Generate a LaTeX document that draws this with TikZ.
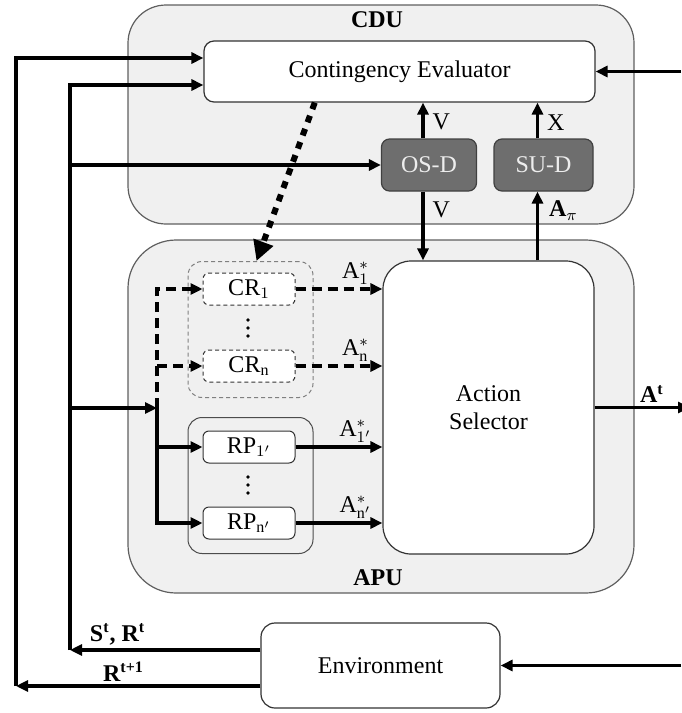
\documentclass[tikz,border=0pt]{standalone}
\usepackage{fontspec}
\setmainfont{Liberation Serif}
\usepackage{amsmath}
\usetikzlibrary{arrows.meta, calc}

\definecolor{unitfill}{HTML}{F0F0F0}
\definecolor{unitline}{HTML}{5F5F5F}
\definecolor{detfill}{HTML}{6E6E6E}
\definecolor{dettext}{HTML}{EDEDED}

\begin{document}
\begin{tikzpicture}[x=0.5pt, y=-0.5pt, font=\fontsize{12}{14}\selectfont,
    boxsize/.style 2 args={minimum width=#1*0.5pt, minimum height=#2*0.5pt, inner sep=0pt},
    unit/.style={draw=unitline, fill=unitfill, line width=0.6pt},
    title/.style={font=\fontsize{12}{14}\selectfont\bfseries},
    block/.style={draw=black!80, fill=white, line width=0.6pt},
    detector/.style={draw=black!75, fill=detfill, text=dettext, line width=0.6pt, rounded corners=4pt, boxsize={95}{52}},
    policy/.style={draw=black!80, fill=white, line width=0.5pt, rounded corners=3pt, boxsize={92}{32}},
    group/.style={draw=black!70, line width=0.5pt, rounded corners=7pt, boxsize={125}{136}},
    wire/.style={line width=1.6pt},
    flow/.style={wire, -{Triangle[length=6pt, width=5.5pt]}},
    dashflow/.style={flow, dash pattern=on 5pt off 3pt},
    lbl/.style={inner sep=1.5pt}]
    \useasboundingbox (0,0) rectangle (681,713);

    % units
    \node[unit, boxsize={506}{219}, rounded corners=19pt] (cdu) at (381,114.5) {};
    \node[unit, boxsize={506}{353}, rounded corners=24pt] (apu) at (381,416.5) {};
    \node[title] (cdutitle) at (377,20) {CDU};
    \node[title] (aputitle) at (378,578) {APU};

    % CDU blocks
    \node[block, rounded corners=5pt, boxsize={391}{61}] (ce) at (399.5,71.5) {Contingency Evaluator};
    \node[detector] (osd) at (429,165) {OS-D};
    \node[detector, boxsize={99}{52}] (sud) at (543.5,165) {SU-D};

    % APU blocks
    \node[group, draw=gray, dash pattern=on 2pt off 1.5pt] (crgrp) at (250.5,329.5) {};
    \node[group] (rpgrp) at (250.5,485.5) {};
    \node[policy, dash pattern=on 2pt off 1.5pt] (cr1) at (249,289) {$\mathrm{CR}_1$};
    \node[policy, dash pattern=on 2pt off 1.5pt] (crn) at (249,366) {$\mathrm{CR}_\mathrm{n}$};
    \node[policy] (rp1) at (249,447) {$\mathrm{RP}_{1'}$};
    \node[policy] (rpn) at (249,523) {$\mathrm{RP}_{\mathrm{n}'}$};
    \coordinate (crdots) at (248,328);
    \coordinate (rpdots) at (248,485);
    \foreach \d in {-8,0,8} {
        \fill (crdots) ++(0,\d) circle (0.9pt);
        \fill (rpdots) ++(0,\d) circle (0.9pt);
    }
    \node[block, rounded corners=14pt, boxsize={211}{293}, align=center] (as) at (488.5,407.5) {Action\\Selector};

    % environment
    \node[block, rounded corners=7pt, boxsize={239}{85}] (env) at (380.5,665.5) {Environment};

    % buses
    \coordinate (inbus) at (70,650);
    \coordinate (outbus) at (16,686);
    \coordinate (split) at (157,408);
    \coordinate (cein) at (681,71.5);
    \coordinate (envin) at (681,665.5);
    \coordinate (aout) at (690,409);

    \draw[flow] (env.west |- inbus) -- node[above, pos=0.75, lbl] {\textbf{S\textsuperscript{t}, R\textsuperscript{t}}} (inbus);
    \draw[flow] (env.west |- outbus) -- node[above, pos=0.56, lbl] {\textbf{R\textsuperscript{t+1}}} (outbus);
    \draw[flow] (inbus) |- ([yshift=-6.75pt]ce.west);
    \draw[flow] (outbus) |- ([yshift=6.75pt]ce.west);
    \draw[flow] (inbus |- osd.west) -- (osd.west);
    \draw[flow] (inbus |- split) -- (split);
    \draw[flow] (cein) -- (ce.east);
    \draw[flow] (envin) -- (env.east);

    % detectors
    \draw[flow] ([xshift=-3pt]osd.north) -- node[right, pos=0.45, inner sep=4pt] {V} ([xshift=-3pt]osd.north |- ce.south);
    \draw[flow] ([xshift=-3pt]sud.north) -- node[right, pos=0.45, inner sep=4pt] {X} ([xshift=-3pt]sud.north |- ce.south);
    \draw[flow] ([xshift=-3pt]osd.south) -- node[right, pos=0.27, inner sep=4pt] {V} ([xshift=-3pt]osd.south |- as.north);
    \draw[flow] ([xshift=-3pt]sud.south |- as.north) -- node[right, pos=0.72, inner sep=5pt] {$\mathbf{A}_\pi$} ([xshift=-3pt]sud.south);
    \draw[line width=3pt, dash pattern=on 3.5pt off 3.5pt, -{Triangle[length=10pt, width=10pt]}]
        ($(ce.south west)!0.284!(ce.south east)$) -- ([xshift=3pt]crgrp.north);

    % policies
    \draw[dashflow] (split) |- (cr1.west);
    \draw[dashflow] (split |- crn.west) -- (crn.west);
    \draw[flow] (split) |- (rpn.west);
    \draw[flow] (split |- rp1.west) -- (rp1.west);
    \draw[dashflow] (cr1.east) -- node[above, pos=0.69, lbl] {$\mathrm{A}^*_1$} (cr1.east -| as.west);
    \draw[dashflow] (crn.east) -- node[above, pos=0.69, lbl] {$\mathrm{A}^*_\mathrm{n}$} (crn.east -| as.west);
    \draw[flow] (rp1.east) -- node[above, pos=0.69, lbl] {$\mathrm{A}^*_{1'}$} (rp1.east -| as.west);
    \draw[flow] (rpn.east) -- node[above, pos=0.69, lbl] {$\mathrm{A}^*_{\mathrm{n}'}$} (rpn.east -| as.west);
    \draw[flow] (as.east) -- node[above, pos=0.6, lbl] {\textbf{A\textsuperscript{t}}} (as.east -| aout);
\end{tikzpicture}
\end{document}
